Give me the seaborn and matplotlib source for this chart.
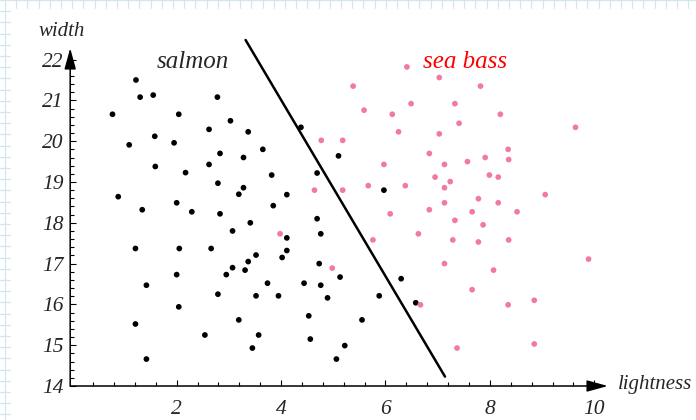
import numpy as np
import pandas as pd
import seaborn as sns
import matplotlib.pyplot as plt

# salmon (black) samples: lightness, width
salmon_x = [1.22, 1.30, 1.55, 0.77, 2.04, 2.78, 3.03, 2.62, 1.09, 1.58, 1.95, 2.83,
            1.59, 2.17, 2.62, 2.79, 0.88, 2.00, 3.19, 1.34, 2.29, 2.83, 3.07, 1.21,
            2.05, 2.66, 2.00, 2.95, 3.07, 1.42, 2.79, 2.04, 1.21, 2.54, 3.19, 1.42,
            3.37, 3.65, 3.28, 4.38, 5.10, 3.82, 4.69, 3.28, 4.11, 3.85, 5.97, 3.41,
            4.69, 4.76, 4.11, 4.11, 4.02, 3.52, 3.37, 3.31, 4.73, 5.13, 4.76, 4.44,
            3.74, 3.52, 3.95, 4.89, 5.88, 6.30, 6.58, 4.53, 5.55, 3.57, 4.56, 3.45,
            5.22, 5.06]
salmon_y = [21.50, 21.08, 21.13, 20.66, 20.66, 21.08, 20.50, 20.29, 19.91, 20.12, 19.96, 19.70,
            19.38, 19.23, 19.43, 18.97, 18.64, 18.49, 18.70, 18.32, 18.27, 18.22, 17.80, 17.37,
            17.37, 17.37, 16.73, 16.73, 16.90, 16.47, 16.25, 15.94, 15.52, 15.25, 15.62, 14.66,
            20.23, 19.80, 19.60, 20.34, 19.64, 19.17, 19.22, 18.86, 18.69, 18.42, 18.80, 18.00,
            18.10, 17.73, 17.63, 17.32, 17.15, 17.21, 17.05, 16.84, 17.00, 16.67, 16.47, 16.52,
            16.52, 16.21, 16.21, 16.16, 16.21, 16.63, 16.04, 15.72, 15.62, 15.25, 15.15, 14.93,
            14.99, 14.66]

# sea bass (pink) samples
bass_x = [6.41, 7.03, 5.38, 6.49, 7.33, 5.59, 6.13, 7.41, 6.25, 7.03, 4.77, 5.18,
          6.84, 5.97, 7.13, 7.57, 6.95, 7.24, 5.67, 6.38, 7.13, 4.64, 5.18, 7.13,
          6.09, 6.84, 7.33, 3.98, 4.98, 5.76, 6.63, 7.29, 7.13, 6.67, 7.37, 7.82,
          8.20, 9.64, 8.35, 7.91, 8.36, 7.99, 8.16, 9.06, 7.78, 8.16, 7.66, 8.52,
          7.87, 7.78, 8.36, 9.89, 8.07, 7.66, 8.35, 8.85, 8.85]
bass_y = [21.82, 21.56, 21.35, 20.92, 20.92, 20.76, 20.66, 20.44, 20.23, 20.18, 20.02, 20.02,
          19.70, 19.43, 19.43, 19.50, 19.12, 19.01, 18.91, 18.91, 18.86, 18.80, 18.80, 18.49,
          18.22, 18.32, 18.06, 17.73, 16.89, 17.58, 17.73, 17.58, 17.00, 15.99, 14.93, 21.35,
          20.66, 20.34, 19.80, 19.60, 19.55, 19.17, 19.12, 18.69, 18.59, 18.49, 18.27, 18.27,
          17.95, 17.53, 17.58, 17.11, 16.84, 16.36, 15.99, 16.10, 15.03]

# decision boundary end points
boundary_x = [3.32, 7.14]
boundary_y = [22.48, 14.23]

x_ticks = [2, 4, 6, 8, 10]
y_ticks = [14, 15, 16, 17, 18, 19, 20, 21, 22]

df = pd.DataFrame({
    "lightness": salmon_x + bass_x,
    "width": salmon_y + bass_y,
    "fish": ["salmon"] * len(salmon_x) + ["sea bass"] * len(bass_x),
})

sns.set_theme(style="white")
plt.rcParams["font.family"] = ["Liberation Serif", "DejaVu Serif"]
plt.rcParams["font.style"] = "italic"

W, H = 696, 420
fig = plt.figure(figsize=(W / 100, H / 100), dpi=100)

# graph-paper background with white panel
bg = fig.add_axes([0, 0, 1, 1])
bg.set_xlim(0, W)
bg.set_ylim(H, 0)
bg.set_facecolor("#f1f1f1")
for gx in np.arange(5, W, 11.2):
    bg.axvline(gx, color="#d3e6ef", lw=0.9)
for gy in np.arange(0, H, 11.2):
    bg.axhline(gy, color="#d3e6ef", lw=0.9)
bg.add_patch(plt.Rectangle((11, 9), W, H, color="white", zorder=3))
bg.axis("off")

ax = fig.add_axes([70.2 / W, 34 / H, 555.4 / W, 350.9 / H])
ax.patch.set_alpha(0)
sns.scatterplot(data=df, x="lightness", y="width", hue="fish",
                palette={"salmon": "black", "sea bass": "#f07aa0"},
                s=17, linewidth=0, legend=False, ax=ax)
sns.lineplot(x=boundary_x, y=boundary_y, color="black", lw=1.8, ax=ax)

ax.set_xlim(-0.04, 10.6)
ax.set_ylim(14, 22.6)
for sp in ax.spines.values():
    sp.set_visible(False)

arrow = dict(arrowstyle="-|>,head_length=0.8,head_width=0.22", color="black",
             lw=1.1, shrinkA=0, shrinkB=0, mutation_scale=16)
ax.annotate("", xy=(10.26, 14), xytext=(-0.04, 14), arrowprops=arrow, annotation_clip=False)
ax.annotate("", xy=(-0.04, 22.28), xytext=(-0.04, 14), arrowprops=arrow, annotation_clip=False)

ax.set_xticks(x_ticks)
ax.set_yticks(y_ticks)
ax.set_xticks(np.arange(0.4, 10, 0.4), minor=True)
ax.set_yticks(np.arange(14.2, 22.1, 0.2), minor=True)
ax.set_xticklabels([str(t) for t in x_ticks])
ax.set_yticklabels([str(t) for t in y_ticks])
ax.tick_params(which="both", direction="in", color="black", width=0.8,
               bottom=True, left=True, labelsize=15.5)
ax.tick_params(which="major", length=4)
ax.tick_params(which="minor", length=3)
ax.tick_params(axis="x", pad=10)
ax.tick_params(axis="y", pad=5)
ax.set_xlabel("")
ax.set_ylabel("")

fig.text(61.5 / W, 1 - 31 / H, "width", fontsize=15, ha="center", va="center")
fig.text(618 / W, 1 - 385 / H, "lightness", fontsize=15, ha="left", va="center")
fig.text(193 / W, 1 - 62 / H, "salmon", fontsize=18, ha="center", va="center")
fig.text(465 / W, 1 - 62 / H, "sea bass", fontsize=18, ha="center", va="center", color="red")

fig.savefig("out.png", dpi=100)
